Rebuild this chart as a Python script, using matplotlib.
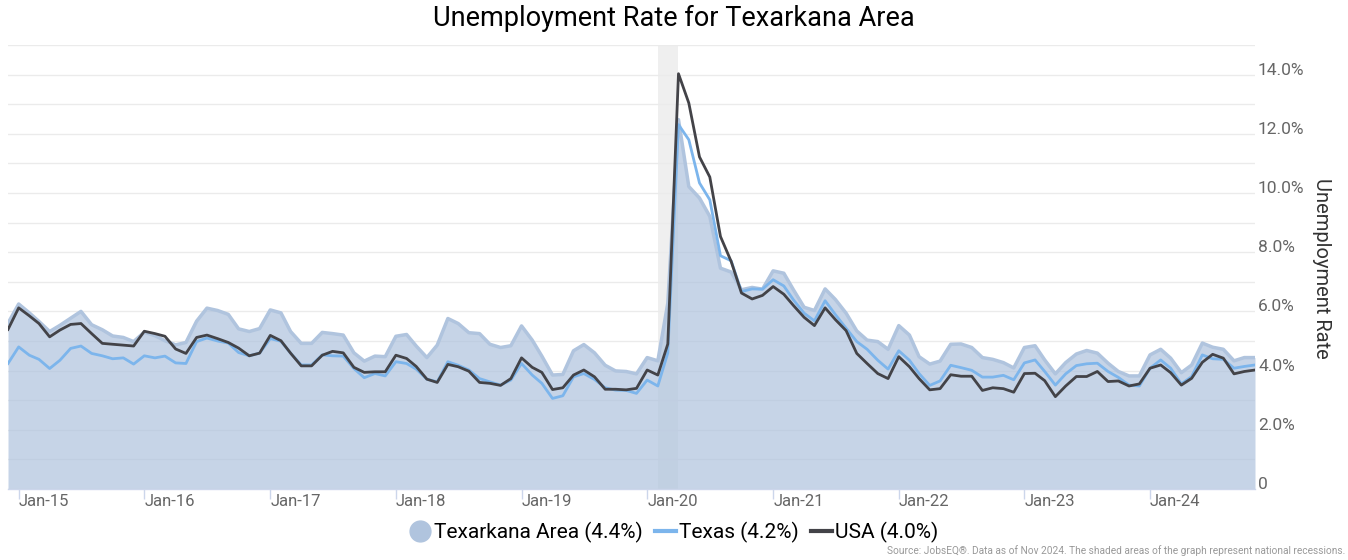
import numpy as np
import pandas as pd
import matplotlib
matplotlib.use("Agg")
import matplotlib.pyplot as plt
import matplotlib.dates as mdates
from matplotlib.lines import Line2D

plt.rcParams["font.family"] = ["Roboto", "DejaVu Sans"]

# monthly series, Dec 2014 .. Nov 2024 (%)
MONTHS = pd.date_range("2014-12-01", periods=120, freq="MS")

TEXARKANA = [
    5.60, 6.25, 5.95, 5.66, 5.32, 5.53, 5.77, 6.00, 5.55, 5.38,
    5.17, 5.12, 4.98, 5.30, 5.18, 5.01, 4.87, 4.95, 5.67, 6.11,
    6.03, 5.90, 5.41, 5.32, 5.42, 6.05, 5.95, 5.32, 4.92, 4.92,
    5.29, 5.25, 5.20, 4.60, 4.32, 4.49, 4.47, 5.16, 5.22, 4.83,
    4.44, 4.86, 5.76, 5.59, 5.28, 5.25, 4.89, 4.78, 4.84, 5.51,
    5.03, 4.49, 3.85, 3.87, 4.67, 4.88, 4.60, 4.18, 3.99, 3.97,
    3.89, 4.44, 4.33, 6.28, 12.48, 10.22, 9.83, 9.21, 7.46, 7.33,
    6.73, 6.81, 6.75, 7.37, 7.29, 6.73, 6.14, 6.03, 6.76, 6.40,
    5.94, 5.34, 5.03, 4.98, 4.72, 5.52, 5.20, 4.47, 4.22, 4.32,
    4.89, 4.90, 4.78, 4.44, 4.38, 4.27, 4.09, 4.78, 4.84, 4.36,
    3.89, 4.27, 4.56, 4.68, 4.59, 4.25, 3.97, 3.82, 3.82, 4.53,
    4.72, 4.42, 3.93, 4.19, 4.93, 4.79, 4.72, 4.33, 4.44, 4.44,
]
TEXAS = [
    4.24, 4.80, 4.52, 4.38, 4.07, 4.35, 4.75, 4.83, 4.58, 4.50,
    4.40, 4.43, 4.22, 4.50, 4.43, 4.49, 4.26, 4.24, 4.98, 5.10,
    5.00, 4.93, 4.61, 4.50, 4.59, 5.08, 4.99, 4.59, 4.19, 4.19,
    4.53, 4.50, 4.49, 4.07, 3.76, 3.90, 3.82, 4.30, 4.24, 4.05,
    3.71, 3.62, 4.30, 4.18, 4.02, 3.73, 3.62, 3.51, 3.68, 4.24,
    3.85, 3.57, 3.06, 3.15, 3.79, 3.90, 3.70, 3.42, 3.34, 3.33,
    3.23, 3.68, 3.48, 4.60, 12.31, 11.80, 10.34, 9.77, 7.88, 7.71,
    6.67, 6.76, 6.75, 7.07, 6.86, 6.39, 5.94, 5.68, 6.36, 5.89,
    5.43, 4.98, 4.72, 4.35, 4.05, 4.67, 4.35, 3.90, 3.50, 3.65,
    4.18, 4.10, 4.01, 3.78, 3.78, 3.84, 3.69, 4.26, 4.36, 3.97,
    3.51, 3.89, 4.17, 4.23, 4.25, 3.97, 3.77, 3.51, 3.48, 4.08,
    4.36, 4.08, 3.55, 3.80, 4.53, 4.40, 4.38, 4.08, 4.14, 4.19,
]
USA = [
    5.39, 6.12, 5.85, 5.59, 5.14, 5.37, 5.56, 5.59, 5.25, 4.92,
    4.89, 4.86, 4.83, 5.33, 5.25, 5.16, 4.73, 4.58, 5.12, 5.20,
    5.08, 4.95, 4.76, 4.50, 4.59, 5.19, 5.01, 4.59, 4.16, 4.16,
    4.52, 4.65, 4.60, 4.11, 3.94, 3.96, 3.96, 4.52, 4.41, 4.14,
    3.71, 3.60, 4.21, 4.13, 3.98, 3.60, 3.57, 3.50, 3.73, 4.43,
    4.11, 3.94, 3.36, 3.42, 3.85, 4.02, 3.79, 3.37, 3.37, 3.35,
    3.40, 4.02, 3.85, 4.90, 14.03, 13.04, 11.22, 10.54, 8.53, 7.69,
    6.62, 6.42, 6.54, 6.84, 6.58, 6.20, 5.80, 5.52, 6.12, 5.72,
    5.35, 4.58, 4.24, 3.90, 3.73, 4.47, 4.13, 3.73, 3.35, 3.39,
    3.86, 3.81, 3.81, 3.33, 3.42, 3.39, 3.27, 3.90, 3.91, 3.66,
    3.12, 3.48, 3.80, 3.80, 3.97, 3.63, 3.65, 3.48, 3.55, 4.08,
    4.19, 3.93, 3.51, 3.74, 4.28, 4.55, 4.42, 3.89, 3.97, 4.02,
]
RECESSION = (pd.Timestamp("2020-02-01"), pd.Timestamp("2020-04-01"))
LEGEND_LABELS = ["Texarkana Area (4.4%)", "Texas (4.2%)", "USA (4.0%)"]
YTICKS = [0, 2, 4, 6, 8, 10, 12, 14]

C_AREA = "#b0c4de"
C_TX = "#7cb5ec"
C_US = "#434348"
GRID = "#ebebeb"

fig = plt.figure(figsize=(13.48, 5.6), dpi=100)
ax = fig.add_axes([8 / 1348, 1 - 489 / 560, (1255 - 8) / 1348, (489 - 45) / 560])

ax.axvspan(RECESSION[0], RECESSION[1], color="#efefef", zorder=0.2, lw=0)
ax.fill_between(MONTHS, TEXARKANA, 0, color=C_AREA, alpha=0.72, lw=0, zorder=1)
ax.plot(MONTHS, TEXARKANA, color=C_AREA, lw=2.5, zorder=2)
ax.plot(MONTHS, TEXAS, color=C_TX, lw=2.0, zorder=3)
ax.plot(MONTHS, USA, color=C_US, lw=2.0, zorder=4)

ax.set_xlim(MONTHS[0], MONTHS[-1])
ax.set_ylim(0, 15)

# y axis on the right, gridline every 1 %, label every 2 %
ax.yaxis.tick_right()
ax.set_yticks(YTICKS)
ax.set_yticks(range(1, 16, 2), minor=True)
ax.set_yticklabels(["0" if v == 0 else f"{v:.1f}%" for v in YTICKS])
for lab in ax.get_yticklabels():
    lab.set_verticalalignment("baseline")
ax.tick_params(axis="y", which="both", length=0, pad=2.2, labelsize=12.5, labelcolor="#666666")
ax.grid(axis="y", which="both", color=GRID, lw=1)
ax.set_axisbelow(True)

xt = [pd.Timestamp(f"{y}-01-01") for y in range(2015, 2025)]
ax.set_xticks(xt)
ax.xaxis.set_major_formatter(mdates.DateFormatter("%b-%y"))
ax.tick_params(axis="x", length=7.5, width=1, color="#ccd6eb", pad=-3.6,
               labelsize=12, labelcolor="#666666")
for lab in ax.get_xticklabels():
    lab.set_horizontalalignment("left")

for s in ["top", "left", "right"]:
    ax.spines[s].set_visible(False)
ax.spines["bottom"].set_color("#ccd6eb")
ax.spines["bottom"].set_linewidth(1)

fig.text(0.5, 1 - 18 / 560, "Unemployment Rate for Texarkana Area",
         ha="center", va="center", fontsize=19.5, color="#000000")
fig.text(1322 / 1348, 1 - 268 / 560, "Unemployment Rate", rotation=270,
         ha="center", va="center", fontsize=14.5, color="#333333")

handles = [
    Line2D([], [], marker="o", ls="none", ms=15, mfc=C_AREA, mec=C_AREA),
    Line2D([], [], color=C_TX, lw=3),
    Line2D([], [], color=C_US, lw=3),
]
fig.legend(handles, LEGEND_LABELS, loc="center", bbox_to_anchor=(0.5, 1 - 532 / 560),
           ncol=3, frameon=False, fontsize=15, handlelength=1.0, handletextpad=0.15,
           columnspacing=0.6, borderaxespad=0)

fig.text(1345 / 1348, 1 - 551 / 560,
         "Source: JobsEQ®. Data as of Nov 2024. The shaded areas of the graph represent national recessions.",
         ha="right", va="center", fontsize=7.3, color="#999999")

fig.savefig("out.png", dpi=100)
